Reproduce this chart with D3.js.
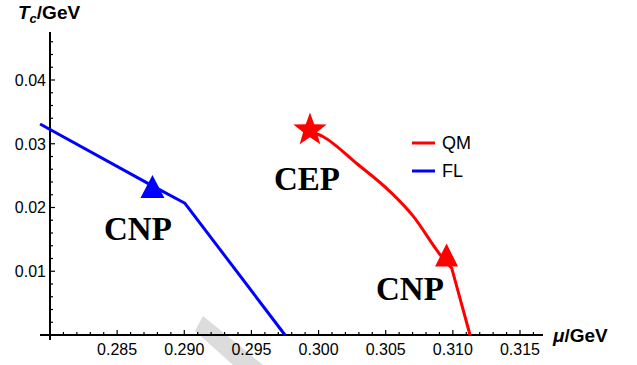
<!DOCTYPE html>
<html>
<head>
<meta charset="utf-8">
<script src="https://cdn.jsdelivr.net/npm/d3@7"></script>
<style>
  body { margin: 0; background: #fff; }
  svg { display: block; }
  .tick-label { font-family: "Liberation Sans", Arial, sans-serif; font-size: 16px; fill: #000; }
  .axis-title { font-family: "Liberation Sans", Arial, sans-serif; font-size: 19px; font-weight: bold; fill: #000; }
  .point-label { font-family: "Liberation Serif", "Times New Roman", serif; font-size: 33px; font-weight: bold; fill: #000; }
  .legend-label { font-family: "Liberation Sans", Arial, sans-serif; font-size: 18px; fill: #000; }
</style>
</head>
<body>
<svg width="637" height="365"></svg>
<script>
// FL curve (mu, Tc)
const flLine = [
  [0.27926, 0.0331],
  [0.28763, 0.0234],
  [0.29005, 0.02066],
  [0.29750, 0.0]
];
// QM curve (mu, Tc), upper branch from CEP to CNP, then lower branch
const qmUpper = [
  [0.29936, 0.0320],
  [0.30035, 0.0311],
  [0.30284, 0.0269],
  [0.30532, 0.0225],
  [0.30706, 0.0186],
  [0.30880, 0.0133],
  [0.30917, 0.01224]
];
const qmLower = [
  [0.30917, 0.01224],
  [0.30992, 0.01046],
  [0.31128, 0.0]
];
const flCNP = [0.28763, 0.0233];
const qmCEP = [0.29936, 0.0320];
const qmCNP = [0.30953, 0.01255];

const xMajor = [0.285, 0.290, 0.295, 0.300, 0.305, 0.310, 0.315];
const yMajor = [0.01, 0.02, 0.03, 0.04];

const svg = d3.select("svg");

const x = d3.scaleLinear().domain([0.28, 0.315]).range([50, 520]);
const y = d3.scaleLinear().domain([0, 0.04]).range([335, 80]);

// faint watermark fragment
svg.append("polygon")
  .attr("points", "195,331 203,316 263,365 233,365")
  .attr("fill", "#dcdcdc");

// axes
const xAxisY = y(0);
const yAxisX = x(0.28);
svg.append("line")
  .attr("x1", 40).attr("x2", 543)
  .attr("y1", xAxisY).attr("y2", xAxisY)
  .attr("stroke", "#000").attr("stroke-width", 2);
svg.append("line")
  .attr("x1", yAxisX).attr("x2", yAxisX)
  .attr("y1", 32).attr("y2", 340)
  .attr("stroke", "#000").attr("stroke-width", 2);

// x ticks
const xMinor = d3.range(281, 317).map(d => d / 1000);
svg.selectAll(".xminor")
  .data(xMinor)
  .enter()
  .append("line")
  .attr("x1", d => x(d)).attr("x2", d => x(d))
  .attr("y1", xAxisY)
  .attr("y2", d => xMajor.some(m => Math.abs(m - d) < 1e-6) ? xAxisY - 5 : xAxisY - 3)
  .attr("stroke", "#000").attr("stroke-width", 1.2);

svg.selectAll(".xlab")
  .data(xMajor)
  .enter()
  .append("text")
  .attr("class", "tick-label")
  .attr("x", d => x(d))
  .attr("y", 355)
  .attr("text-anchor", "middle")
  .text(d => d3.format(".3f")(d));

// y ticks
const yMinor = d3.range(1, 24).map(d => d * 0.002);
svg.selectAll(".yminor")
  .data(yMinor)
  .enter()
  .append("line")
  .attr("y1", d => y(d)).attr("y2", d => y(d))
  .attr("x1", yAxisX)
  .attr("x2", d => yMajor.some(m => Math.abs(m - d) < 1e-6) ? yAxisX + 5 : yAxisX + 3)
  .attr("stroke", "#000").attr("stroke-width", 1.2);

svg.selectAll(".ylab")
  .data(yMajor)
  .enter()
  .append("text")
  .attr("class", "tick-label")
  .attr("x", 46)
  .attr("y", d => y(d))
  .attr("dy", "0.36em")
  .attr("text-anchor", "end")
  .text(d => d3.format(".2f")(d));

// axis titles
const yt = svg.append("text").attr("class", "axis-title").attr("x", 18).attr("y", 19);
yt.append("tspan").attr("font-style", "italic").text("T");
yt.append("tspan").attr("font-style", "italic").attr("font-size", "13px").attr("dy", 4).text("c");
yt.append("tspan").attr("dy", -4).text("/GeV");

const xt = svg.append("text").attr("class", "axis-title").attr("x", 553).attr("y", 342);
xt.append("tspan").attr("font-style", "italic").text("μ");
xt.append("tspan").text("/GeV");

// curves
const smooth = d3.line().x(d => x(d[0])).y(d => y(d[1])).curve(d3.curveMonotoneX);
const line = d3.line().x(d => x(d[0])).y(d => y(d[1]));

svg.append("path")
  .datum(flLine)
  .attr("d", line)
  .attr("fill", "none")
  .attr("stroke", "#0000ff")
  .attr("stroke-width", 3)
  .attr("stroke-linejoin", "round");

svg.append("path")
  .datum(qmUpper)
  .attr("d", smooth)
  .attr("fill", "none")
  .attr("stroke", "#ff0000")
  .attr("stroke-width", 3)
  .attr("stroke-linejoin", "round");

svg.append("path")
  .datum(qmLower)
  .attr("d", line)
  .attr("fill", "none")
  .attr("stroke", "#ff0000")
  .attr("stroke-width", 3)
  .attr("stroke-linejoin", "round");

// markers
function trianglePath(cx, cy, w, h) {
  return `M${cx},${cy - h / 2}L${cx + w / 2},${cy + h / 2}L${cx - w / 2},${cy + h / 2}Z`;
}
function starPath(cx, cy, R, r) {
  const pts = [];
  for (let i = 0; i < 10; i++) {
    const a = -Math.PI / 2 + i * Math.PI / 5;
    const rad = i % 2 === 0 ? R : r;
    pts.push([cx + rad * Math.cos(a), cy + rad * Math.sin(a)]);
  }
  return "M" + pts.map(p => p.join(",")).join("L") + "Z";
}

svg.append("path")
  .attr("d", trianglePath(x(flCNP[0]), y(flCNP[1]), 24, 23))
  .attr("fill", "#0000ff");

svg.append("path")
  .attr("d", trianglePath(x(qmCNP[0]), y(qmCNP[1]), 23, 23))
  .attr("fill", "#ff0000");

svg.append("path")
  .attr("d", starPath(x(qmCEP[0]), y(qmCEP[1]) - 1, 17.5, 7.2))
  .attr("fill", "#ff0000");

// point labels
svg.append("text").attr("class", "point-label").attr("x", 104).attr("y", 240).text("CNP");
svg.append("text").attr("class", "point-label").attr("x", 274).attr("y", 190).text("CEP");
svg.append("text").attr("class", "point-label").attr("x", 376).attr("y", 300).text("CNP");

// legend
const legend = [
  { name: "QM", color: "#ff0000", yy: 143 },
  { name: "FL", color: "#0000ff", yy: 171 }
];
legend.forEach(l => {
  svg.append("line")
    .attr("x1", 412).attr("x2", 435)
    .attr("y1", l.yy).attr("y2", l.yy)
    .attr("stroke", l.color).attr("stroke-width", 3);
  svg.append("text")
    .attr("class", "legend-label")
    .attr("x", 442).attr("y", l.yy + 6)
    .text(l.name);
});
</script>
</body>
</html>
